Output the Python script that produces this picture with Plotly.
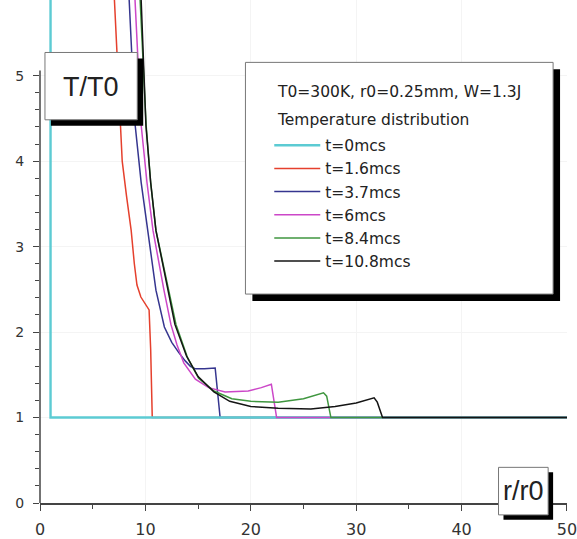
import numpy as np
import plotly.graph_objects as go

# ---------------- data ----------------
names = ["t=0mcs", "t=1.6mcs", "t=3.7mcs", "t=6mcs", "t=8.4mcs", "t=10.8mcs"]
colors = ["#5ccbd3", "#e5402d", "#35358f", "#cc47c8", "#3f963f", "#141414"]

x_t0 = [1.0, 1.0, 50.0]
y_t0 = [6.5, 1.0, 1.0]

x_t16 = [6.9, 7.06, 7.45, 7.8, 8.2, 8.65, 8.95, 9.2, 9.57, 10.0, 10.35, 10.5, 10.65, 50.0]
y_t16 = [6.3, 5.88, 5.0, 4.0, 3.6, 3.19, 2.8, 2.55, 2.41, 2.32, 2.26, 1.8, 1.0, 1.0]

x_t37 = [8.3, 8.47, 9.03, 9.6, 10.25, 11.0, 11.8, 12.5, 13.17, 13.8, 14.27, 14.74, 15.6, 16.46, 16.62, 17.09, 50.0]
y_t37 = [6.3, 5.88, 4.42, 3.75, 3.19, 2.49, 2.06, 1.88, 1.76, 1.66, 1.60, 1.57, 1.57, 1.575, 1.58, 1.0, 1.0]

x_t6 = [8.85, 9.03, 9.6, 10.15, 10.72, 11.76, 12.42, 13.0, 13.64, 14.74, 16.0, 17.56, 19.76, 21.0, 21.64, 21.95, 22.45, 50.0]
y_t6 = [6.3, 5.88, 4.42, 3.75, 3.19, 2.49, 2.09, 1.85, 1.64, 1.45, 1.35, 1.30, 1.31, 1.35, 1.38, 1.39, 1.0, 1.0]

x_t84 = [9.3, 9.5, 10.07, 10.5, 11.0, 12.23, 12.9, 14.0, 15.05, 16.5, 18.2, 20.0, 22.6, 25.0, 26.9, 27.2, 27.6, 50.0]
y_t84 = [6.3, 5.88, 4.42, 3.75, 3.19, 2.49, 2.09, 1.70, 1.46, 1.31, 1.22, 1.19, 1.18, 1.22, 1.29, 1.25, 1.0, 1.0]

x_t108 = [9.4, 9.6, 10.05, 10.5, 11.0, 12.1, 12.8, 13.9, 15.0, 16.5, 18.0, 20.0, 22.6, 25.7, 28.0, 30.0, 31.7, 32.0, 32.5, 50.0]
y_t108 = [6.3, 5.88, 4.42, 3.75, 3.19, 2.49, 2.09, 1.72, 1.48, 1.30, 1.19, 1.13, 1.11, 1.10, 1.13, 1.17, 1.23, 1.18, 1.0, 1.0]

header_lines = ["T0=300K, r0=0.25mm, W=1.3J", "Temperature distribution"]
y_label = "T/T0"
x_label = "r/r0"

x_range = [0, 50.001]
y_range = [0, 5.886]

# ---------------- layout helpers (pixels -> paper) ----------------
W, H = 577, 539
ML, MR, MT, MB = 40, 6, 0, 31
PW, PH = W - ML - MR, H - MT - MB


def px(xp):
    return (xp - ML) / PW


def py(yp):
    return (H - MB - yp) / PH


series = [
    (x_t16, y_t16, 1),
    (x_t37, y_t37, 2),
    (x_t0, y_t0, 0),
    (x_t6, y_t6, 3),
    (x_t84, y_t84, 4),
    (x_t108, y_t108, 5),
]

fig = go.Figure()
for xs, ys, i in series:
    fig.add_trace(go.Scatter(
        x=xs, y=ys, mode="lines", name=names[i],
        line=dict(color=colors[i], width=2.4 if i == 0 else 1.5),
        legendrank=i + 1,
    ))

font_main = "DejaVu Sans"
box_font = "Liberation Sans, Arial"

shapes = []
# y axis line (ends just above 5)
shapes.append(dict(type="line", xref="paper", yref="paper", x0=0, x1=0, y0=0,
                   y1=5.06 / y_range[1],
                   line=dict(color="#444", width=1.5), layer="above"))


def boxed(x0, y0, x1, y1, off):
    shapes.append(dict(type="rect", xref="paper", yref="paper",
                       x0=px(x0 + off), x1=px(x1 + off), y0=py(y1 + off), y1=py(y0 + off),
                       fillcolor="black", line=dict(width=0), layer="above"))
    shapes.append(dict(type="rect", xref="paper", yref="paper",
                       x0=px(x0), x1=px(x1), y0=py(y1), y1=py(y0),
                       fillcolor="white", line=dict(color="#777", width=1), layer="above"))


boxed(45, 53, 138, 121, 6)      # T/T0 label box
boxed(502, 472, 552, 520, 5)    # r/r0 label box
boxed(247, 63, 557, 297, 7)     # legend box

annotations = [
    dict(xref="paper", yref="paper", x=px(91), y=py(88), text=y_label, showarrow=False,
         font=dict(family=box_font, size=27, color="#222"), xanchor="center", yanchor="middle"),
    dict(xref="paper", yref="paper", x=px(527), y=py(496), text=x_label, showarrow=False,
         font=dict(family=box_font, size=27, color="#222"), xanchor="center", yanchor="middle"),
]
for k, t in enumerate(header_lines):
    annotations.append(dict(xref="paper", yref="paper", x=px(277), y=py([93, 121][k]), text=t,
                            showarrow=False, xanchor="left", yanchor="middle",
                            font=dict(family=font_main, size=15.5, color="#222")))

minor_y = [v for v in np.round(np.arange(0.2, 5.0, 0.2), 2) if abs(v - round(v)) > 1e-6]

fig.update_layout(
    width=W, height=H,
    margin=dict(l=ML, r=MR, t=MT, b=MB, pad=0),
    paper_bgcolor="white", plot_bgcolor="white",
    showlegend=True,
    legend=dict(x=px(271), y=py(130), xanchor="left", yanchor="top",
                bgcolor="rgba(0,0,0,0)", borderwidth=0, itemwidth=46,
                font=dict(family=font_main, size=15.5, color="#222"),
                traceorder="normal"),
    xaxis=dict(range=x_range, showline=True, linecolor="#444", linewidth=1.5,
               ticks="outside", ticklen=6, tickwidth=1.2, tickcolor="#444",
               tickmode="linear", tick0=0, dtick=10,
               minor=dict(tick0=0, dtick=5, ticks="outside", ticklen=4, tickcolor="#444", showgrid=False),
               showgrid=True, gridcolor="#f4f4f4", zeroline=False,
               tickfont=dict(family=font_main, size=16, color="#333"),
               ticklabelstandoff=5, ticklabeloverflow="allow", fixedrange=True),
    yaxis=dict(range=y_range, showline=False,
               ticks="outside", ticklen=6, tickwidth=1.2, tickcolor="#444",
               tickmode="linear", tick0=0, dtick=1,
               minor=dict(tickmode="array", tickvals=minor_y, ticks="outside", ticklen=4,
                          tickcolor="#444", showgrid=False),
               showgrid=True, gridcolor="#f4f4f4", zeroline=False,
               tickfont=dict(family=font_main, size=14, color="#333"),
               ticklabelstandoff=6, fixedrange=True),
    shapes=shapes,
    annotations=annotations,
)

fig.write_html("out.html")
